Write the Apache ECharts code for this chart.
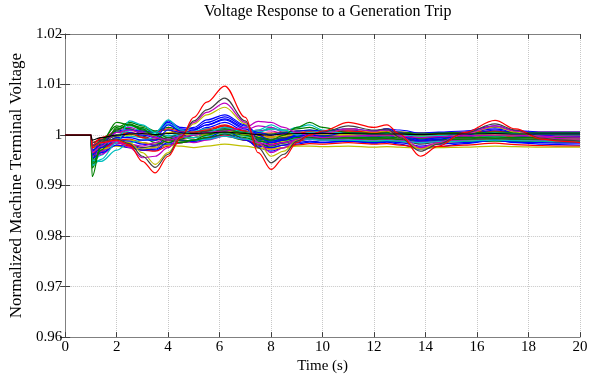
<!DOCTYPE html>
<html><head><meta charset="utf-8">
<script src="https://cdn.jsdelivr.net/npm/echarts@6/dist/echarts.min.js"></script>
<style>html,body{margin:0;padding:0;background:#fff}#c{width:592px;height:379px}</style>
</head><body><div id="c"></div>
<script>
// Time samples (s)
const T = [0, 1, 1.05, 1.4, 2, 2.5, 3, 3.5, 4, 4.5, 5, 5.5, 6.2, 7, 7.5, 8, 8.5, 9, 9.5, 10, 11, 12, 12.5, 13, 13.8, 14.5, 15.5, 16.7, 17.5, 18.5, 19.2, 20];
const xTicks = [0, 2, 4, 6, 8, 10, 12, 14, 16, 18, 20];
const yTicks = [0.96, 0.97, 0.98, 0.99, 1, 1.01, 1.02];

// Normalized terminal voltages (one array per machine trace)
const vA = [1,1,0.9950,0.9990,1.0018,1.0012,1.0005,1.0008,1.0015,1.0010,1.0005,1.0008,1.0012,1.0008,1.0004,1.0002,1.0005,1.0008,1.0010,1.0008,1.0006,1.0005,1.0006,1.0006,1.0004,1.0005,1.0005,1.0006,1.0005,1.0005,1.0005,1.0005];
const vB = [1,1,0.9965,0.9975,0.9985,0.9978,0.9970,0.9968,0.9978,0.9985,0.9990,0.9995,1.0000,0.9990,0.9980,0.9972,0.9975,0.9980,0.9983,0.9982,0.9985,0.9982,0.9983,0.9980,0.9975,0.9977,0.9980,0.9984,0.9981,0.9979,0.9978,0.9978];
const vC = [1,1,0.9975,0.9985,1.0000,1.0008,1.0012,1.0005,0.9998,1.0002,1.0008,1.0012,1.0010,1.0003,1.0005,1.0012,1.0008,1.0015,1.0020,1.0010,1.0002,1.0000,1.0002,1.0001,0.9999,1.0000,1.0001,1.0002,1.0001,1.0001,1.0001,1.0001];
const vD = [1,1,0.9960,0.9968,0.9985,0.9982,0.9978,0.9985,0.9995,0.9990,0.9985,0.9990,0.9998,0.9992,0.9985,0.9980,0.9985,0.9990,0.9992,0.9990,0.9992,0.9990,0.9991,0.9989,0.9985,0.9987,0.9990,0.9993,0.9991,0.9990,0.9990,0.9990];
const vE = [1,1,0.9970,0.9972,0.9978,0.9975,0.9972,0.9975,0.9980,0.9978,0.9975,0.9978,0.9982,0.9978,0.9974,0.9972,0.9975,0.9978,0.9978,0.9977,0.9978,0.9976,0.9977,0.9976,0.9974,0.9975,0.9976,0.9978,0.9977,0.9976,0.9976,0.9976];
const vF = [1,1,0.9985,0.9990,0.9998,1.0002,0.9998,0.9990,0.9995,1.0002,1.0005,1.0008,1.0010,1.0002,0.9995,0.9992,0.9995,0.9999,1.0001,1.0000,1.0002,0.9999,1.0001,0.9998,0.9994,0.9996,0.9998,1.0001,0.9999,0.9998,0.9998,0.9998];
const vG = [1,1,0.9955,0.9965,0.9980,0.9975,0.9970,0.9972,0.9985,0.9990,0.9988,0.9992,1.0002,0.9990,0.9978,0.9975,0.9980,0.9985,0.9988,0.9986,0.9988,0.9985,0.9987,0.9985,0.9978,0.9982,0.9985,0.9990,0.9986,0.9985,0.9984,0.9984];
const vH = [1,1,0.9945,0.9970,1.0010,1.0022,1.0012,0.9995,0.9985,0.9992,1.0000,1.0003,1.0005,1.0000,0.9992,0.9988,0.9993,0.9998,1.0000,0.9998,0.9996,0.9995,0.9996,0.9995,0.9994,0.9995,0.9995,0.9996,0.9995,0.9995,0.9995,0.9995];
const vI = [1,1,0.9980,0.9995,1.0005,1.0003,0.9995,0.9992,1.0005,1.0008,1.0006,1.0010,1.0018,1.0008,1.0000,0.9996,1.0000,1.0004,1.0006,1.0005,1.0008,1.0005,1.0006,1.0004,1.0000,1.0002,1.0004,1.0008,1.0005,1.0003,1.0003,1.0003];
const vJ = [1,1,0.9950,0.9948,0.9970,0.9985,0.9990,0.9995,1.0005,0.9998,0.9990,0.9992,0.9998,0.9992,0.9988,0.9985,0.9990,0.9993,0.9992,0.9990,0.9990,0.9988,0.9989,0.9988,0.9985,0.9987,0.9988,0.9990,0.9989,0.9988,0.9988,0.9988];
const vL = [1,1,0.9972,0.9980,0.9995,1.0000,1.0002,1.0000,1.0005,1.0003,1.0002,1.0004,1.0008,1.0002,0.9998,0.9996,0.9999,1.0002,1.0003,1.0002,1.0001,1.0000,1.0001,1.0000,0.9999,1.0000,1.0000,1.0001,1.0000,1.0000,1.0000,1.0000];
const vM = [1,1,0.9968,0.9985,1.0005,1.0010,1.0008,1.0005,1.0025,1.0012,1.0010,1.0020,1.0032,1.0015,1.0005,1.0000,1.0004,1.0008,1.0010,1.0008,1.0012,1.0008,1.0012,1.0010,1.0004,1.0006,1.0008,1.0018,1.0009,1.0006,1.0006,1.0006];
const vN = [1,1,0.9935,0.9975,1.0012,1.0020,1.0015,1.0005,0.9995,0.9988,0.9990,0.9995,1.0002,0.9995,0.9988,0.9985,0.9990,0.9995,0.9996,0.9994,0.9994,0.9992,0.9993,0.9992,0.9990,0.9991,0.9992,0.9993,0.9992,0.9992,0.9992,0.9992];
const vP1 = [1,1,0.9962,0.9980,1.0008,1.0012,1.0002,0.9998,1.0028,1.0015,1.0012,1.0025,1.0036,1.0018,1.0002,0.9990,0.9995,1.0003,1.0006,1.0006,1.0010,1.0006,1.0009,1.0004,0.9992,0.9997,1.0004,1.0012,1.0006,1.0003,1.0003,1.0003];
const vP2 = [1,1,0.9942,0.9965,1.0015,1.0025,1.0018,1.0008,1.0010,1.0000,0.9995,1.0002,1.0010,1.0006,1.0008,1.0012,1.0010,1.0012,1.0015,1.0008,1.0004,1.0003,1.0004,1.0003,1.0001,1.0002,1.0003,1.0004,1.0003,1.0003,1.0003,1.0003];
const vP3 = [1,1,0.9958,0.9970,0.9990,0.9992,0.9985,0.9980,0.9990,0.9998,1.0005,1.0012,1.0020,1.0005,0.9990,0.9982,0.9986,0.9992,0.9995,0.9994,0.9998,0.9995,0.9997,0.9994,0.9988,0.9990,0.9994,1.0000,0.9996,0.9993,0.9991,0.9990];
const vP4 = [1,1,0.9948,0.9960,0.9995,1.0018,1.0012,1.0002,1.0022,1.0008,1.0002,1.0006,1.0012,1.0004,1.0006,1.0015,1.0008,1.0004,1.0008,1.0006,1.0004,1.0003,1.0004,1.0003,1.0001,1.0002,1.0003,1.0005,1.0003,1.0003,1.0003,1.0003];
const vP5 = [1,1,0.9955,0.9962,0.9980,0.9978,0.9970,0.9975,0.9990,0.9992,0.9995,1.0002,1.0015,1.0010,1.0018,1.0015,1.0005,0.9998,0.9995,0.9992,0.9994,0.9992,0.9993,0.9991,0.9987,0.9989,0.9991,0.9994,0.9992,0.9990,0.9989,0.9989];
const vP6 = [1,1,0.9965,0.9975,0.9988,0.9990,0.9985,0.9982,0.9988,0.9992,0.9995,1.0000,1.0005,0.9998,0.9990,0.9985,0.9988,0.9992,0.9993,0.9992,0.9993,0.9991,0.9992,0.9990,0.9986,0.9988,0.9990,0.9992,0.9990,0.9989,0.9988,0.9988];
const vP7 = [1,1,0.9970,0.9978,0.9985,0.9982,0.9975,0.9978,0.9990,0.9995,1.0000,1.0008,1.0018,1.0002,0.9985,0.9975,0.9980,0.9988,0.9992,0.9992,0.9996,0.9993,0.9995,0.9991,0.9982,0.9986,0.9992,0.9998,0.9993,0.9990,0.9989,0.9988];
const vP8 = [1,1,0.9975,0.9982,0.9990,0.9988,0.9982,0.9980,0.9995,0.9998,1.0005,1.0015,1.0025,1.0008,0.9990,0.9980,0.9985,0.9992,0.9995,0.9995,1.0000,0.9997,0.9999,0.9995,0.9985,0.9990,0.9996,1.0004,0.9998,0.9995,0.9994,0.9993];
const vP9 = [1,1,0.9960,0.9985,1.0008,1.0005,0.9995,0.9985,0.9980,0.9985,0.9988,0.9992,0.9998,0.9990,0.9982,0.9978,0.9984,0.9990,0.9992,0.9990,0.9989,0.9987,0.9988,0.9987,0.9985,0.9986,0.9987,0.9988,0.9987,0.9987,0.9986,0.9986];
const vP10 = [1,1,0.9985,0.9992,1.0000,1.0005,1.0008,1.0006,1.0012,1.0008,1.0006,1.0008,1.0012,1.0006,1.0004,1.0004,1.0006,1.0008,1.0008,1.0007,1.0008,1.0006,1.0007,1.0006,1.0004,1.0005,1.0006,1.0008,1.0006,1.0006,1.0006,1.0006];
const vP11 = [1,1,0.9968,0.9978,0.9992,0.9998,0.9995,0.9990,1.0000,0.9998,0.9995,0.9998,1.0004,0.9998,0.9993,0.9990,0.9993,0.9996,0.9997,0.9996,0.9997,0.9995,0.9996,0.9995,0.9992,0.9994,0.9995,0.9997,0.9995,0.9995,0.9994,0.9994];
const vP12 = [1,1,0.9975,0.9990,1.0010,1.0015,1.0008,0.9998,1.0005,1.0002,1.0000,1.0003,1.0008,1.0005,1.0010,1.0008,1.0003,1.0000,1.0000,0.9999,1.0000,0.9999,1.0000,0.9999,0.9997,0.9998,0.9999,1.0000,0.9999,0.9999,0.9998,0.9998];
const vP13 = [1,1,0.9980,0.9988,0.9998,1.0002,1.0003,1.0000,1.0004,1.0002,1.0000,1.0002,1.0005,1.0000,0.9997,0.9996,0.9998,1.0000,1.0001,1.0000,1.0000,0.9999,1.0000,0.9999,0.9998,0.9999,0.9999,1.0000,0.9999,0.9999,0.9999,0.9999];
const vP14 = [1,1,0.9952,0.9968,0.9985,0.9980,0.9972,0.9970,0.9982,0.9985,0.9988,0.9995,1.0008,0.9992,0.9975,0.9968,0.9975,0.9982,0.9986,0.9985,0.9988,0.9984,0.9986,0.9982,0.9972,0.9977,0.9983,0.9990,0.9985,0.9982,0.9981,0.9980];
const vB1 = [1,1,0.9960,0.9975,0.9990,1.0005,1.0000,0.9995,1.0020,1.0008,1.0015,1.0030,1.0040,1.0020,1.0000,0.9988,0.9992,1.0000,1.0002,1.0005,1.0012,1.0008,1.0012,1.0005,0.9990,0.9995,1.0005,1.0015,1.0008,1.0003,1.0002,1.0002];
const vB2 = [1,1,0.9970,0.9980,0.9995,0.9995,0.9990,0.9990,1.0010,1.0005,1.0010,1.0020,1.0030,1.0012,0.9995,0.9985,0.9990,0.9998,1.0000,0.9998,1.0005,1.0002,1.0004,0.9998,0.9988,0.9992,1.0000,1.0010,1.0005,1.0000,0.9998,0.9998];
const vC1 = [1,1,0.9940,0.9952,0.9985,1.0028,1.0020,1.0005,1.0030,1.0010,1.0000,1.0005,1.0015,1.0005,1.0010,1.0020,1.0010,1.0000,1.0005,1.0008,1.0003,1.0002,1.0003,1.0001,0.9998,0.9999,1.0002,1.0005,1.0003,1.0002,1.0002,1.0002];
const vG1 = [1,1,0.9918,0.9985,1.0025,1.0020,1.0010,1.0000,0.9990,0.9985,0.9990,1.0000,1.0010,1.0005,0.9995,0.9990,1.0000,1.0015,1.0025,1.0015,1.0005,1.0003,1.0005,1.0004,1.0002,1.0003,1.0004,1.0006,1.0005,1.0004,1.0004,1.0004];
const vM2 = [1,1,0.9965,0.9978,1.0005,1.0010,1.0005,0.9995,0.9990,0.9995,1.0000,1.0005,1.0008,1.0015,1.0027,1.0025,1.0015,1.0005,0.9998,0.9995,0.9998,1.0000,1.0000,0.9998,0.9995,0.9997,0.9999,1.0000,1.0000,0.9998,0.9997,0.9996];
const vY1 = [1,1,0.9975,0.9985,0.9990,0.9985,0.9965,0.9942,0.9965,0.9998,1.0022,1.0040,1.0055,1.0022,0.9985,0.9958,0.9968,0.9990,1.0000,1.0003,1.0012,1.0006,1.0008,0.9995,0.9972,0.9984,1.0002,1.0016,1.0006,0.9995,0.9993,0.9992];
const vM1 = [1,1,0.9980,0.9985,0.9988,0.9975,0.9955,0.9958,0.9975,1.0000,1.0025,1.0045,1.0063,1.0025,0.9985,0.9965,0.9975,0.9992,1.0000,1.0003,1.0012,1.0008,1.0010,0.9998,0.9975,0.9985,1.0002,1.0018,1.0008,0.9996,0.9993,0.9992];
const vK1 = [1,1,0.9978,0.9988,0.9992,0.9983,0.9958,0.9936,0.9962,0.9997,1.0028,1.0050,1.0073,1.0028,0.9975,0.9945,0.9962,0.9988,1.0000,1.0006,1.0018,1.0010,1.0012,0.9995,0.9968,0.9982,1.0004,1.0022,1.0010,0.9994,0.9990,0.9988];
const vR1 = [1,1,0.9975,0.9985,0.9990,0.9980,0.9948,0.9925,0.9958,0.9995,1.0035,1.0065,1.0097,1.0035,0.9965,0.9932,0.9955,0.9985,1.0000,1.0008,1.0025,1.0015,1.0020,1.0002,0.9958,0.9978,1.0005,1.0029,1.0012,0.9992,0.9988,0.9985];
const vK0 = [1,1,0.9990,0.9995,1.0000,1.0002,1.0003,1.0001,1.0003,1.0004,1.0003,1.0004,1.0006,1.0003,1.0001,1.0000,1.0002,1.0003,1.0003,1.0003,1.0003,1.0002,1.0002,1.0002,1.0001,1.0002,1.0002,1.0003,1.0002,1.0002,1.0002,1.0002];

const B='#0000ff', G='#008000', R='#ff0000', C='#00bfbf', M='#bf00bf', Y='#bfbf00', K='#404040';
const traces = [
  [vP1,B],[vP2,G],[vP3,R],[vP4,C],[vP5,M],[vP6,Y],[vP7,K],
  [vP8,B],[vP9,G],[vP10,R],[vP11,C],[vP12,M],[vP13,Y],[vP14,B],
  [vA,G],[vB,R],[vC,C],[vD,M],[vE,Y],[vF,K],
  [vG,B],[vH,G],[vI,R],[vJ,C],[vL,Y],[vM,B],
  [vN,G],[vB1,B],[vB2,B],[vC1,C],[vG1,G],[vM2,M],
  [vY1,Y],[vM1,M],[vK1,K],[vR1,R],[vK0,'#000000']
];

const font = 'Liberation Serif';
const chart = echarts.init(document.getElementById('c'), null, {renderer:'canvas'});
const fmtY = v => String(Number(v.toFixed(2)));
const baseX = {type:'value', min:xTicks[0], max:xTicks[xTicks.length-1], interval:2};
const baseY = {type:'value', min:yTicks[0], max:yTicks[yTicks.length-1], interval:0.01};
chart.setOption({
  animation:false,
  backgroundColor:'#fff',
  title:{text:'Voltage Response to a Generation Trip', left:204, top:4, padding:0,
    textStyle:{fontFamily:font, fontSize:16, fontWeight:'normal', color:'#000'}},
  grid:{left:60, right:12, top:34, bottom:39},
  xAxis:[
    Object.assign({}, baseX, {position:'bottom', name:'Time (s)', nameLocation:'middle', nameGap:14,
      nameTextStyle:{fontFamily:font, fontSize:15, color:'#000'},
      axisLine:{lineStyle:{color:'#808080'}}, axisTick:{inside:true, length:5, lineStyle:{color:'#404040'}},
      axisLabel:{fontFamily:font, fontSize:15, color:'#000', margin:2},
      splitLine:{show:true, lineStyle:{type:'dotted', color:'#c8c8c8'}}}),
    Object.assign({}, baseX, {position:'top', axisLine:{lineStyle:{color:'#808080'}},
      axisTick:{inside:true, length:5, lineStyle:{color:'#404040'}}, axisLabel:{show:false}, splitLine:{show:false}})
  ],
  yAxis:[
    Object.assign({}, baseY, {position:'left', name:'Normalized Machine Terminal Voltage', nameLocation:'middle', nameGap:40,
      nameTextStyle:{fontFamily:font, fontSize:17, color:'#000'},
      axisLine:{show:true, lineStyle:{color:'#808080'}}, axisTick:{show:true, inside:true, length:5, lineStyle:{color:'#404040'}},
      axisLabel:{fontFamily:font, fontSize:15, color:'#000', margin:3, formatter:fmtY},
      splitLine:{show:true, lineStyle:{type:'dotted', color:'#c8c8c8'}}}),
    Object.assign({}, baseY, {position:'right', axisLine:{show:true, lineStyle:{color:'#808080'}},
      axisTick:{show:true, inside:true, length:5, lineStyle:{color:'#404040'}}, axisLabel:{show:false}, splitLine:{show:false}})
  ],
  series: traces.map((tr, k) => ({
    type:'line', name:'m'+k, xAxisIndex:0, yAxisIndex:0,
    data: T.map((t, i) => [t, tr[0][i]]),
    showSymbol:false, smooth:0.35, smoothMonotone:'x',
    lineStyle:{width:1.2, color:tr[1]}, itemStyle:{color:tr[1]}
  }))
});
</script></body></html>
